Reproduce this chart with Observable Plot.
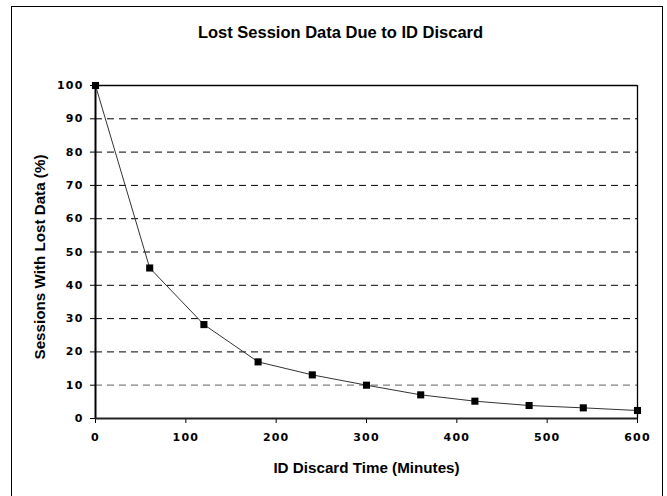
<!DOCTYPE html>
<html>
<head>
<meta charset="utf-8">
<script src="https://cdn.jsdelivr.net/npm/d3@7"></script>
<script src="https://cdn.jsdelivr.net/npm/@observablehq/plot@0.6"></script>
<style>
  html, body { margin: 0; padding: 0; background: #fff; overflow: hidden; }
  #wrap { position: relative; width: 667px; height: 496px; }
  #border { position: absolute; left: 11px; top: 6px; width: 650px; height: 500px;
            border: 1.5px solid #000; border-bottom: none; pointer-events: none; }
  #chart { position: absolute; left: 0; top: 0; }
  #chart g[aria-label="y-axis tick label"] text,
  #chart g[aria-label="x-axis tick label"] text { letter-spacing: 1.2px; }
</style>
</head>
<body>
<div id="wrap"><div id="chart"></div><div id="border"></div></div>
<script>
const minutes = [0, 60, 120, 180, 240, 300, 360, 420, 480, 540, 600];
const lostPct = [100, 45.2, 28.2, 17.0, 13.1, 10.0, 7.1, 5.2, 3.9, 3.2, 2.4];
const yTicks = [0, 10, 20, 30, 40, 50, 60, 70, 80, 90, 100];
const xTicks = [0, 100, 200, 300, 400, 500, 600];
const titleText = "Lost Session Data Due to ID Discard";
const xLabel = "ID Discard Time (Minutes)";
const yLabel = "Sessions With Lost Data (%)";

const data = minutes.map((m, i) => ({m, v: lostPct[i]}));
const blackGrid = yTicks.filter(t => t > 10 && t < 100);
const grayGrid = yTicks.filter(t => t === 10);

const tickFont = {fontFamily: "DejaVu Sans", fontSize: 11, fontWeight: "bold"};

const chart = Plot.plot({
  width: 667,
  height: 496,
  marginLeft: 95,
  marginRight: 30,
  marginTop: 85,
  marginBottom: 78,
  style: {fontFamily: "DejaVu Sans", background: "white", overflow: "visible"},
  x: {domain: [0, 600]},
  y: {domain: [0, 100]},
  marks: [
    Plot.ruleY(blackGrid, {y: d => d, stroke: "#000", strokeWidth: 1, strokeDasharray: "7,5"}),
    Plot.ruleY(grayGrid, {y: d => d, stroke: "#808080", strokeWidth: 1.2, strokeDasharray: "7,5"}),
    Plot.ruleY([100], {stroke: "#000", strokeWidth: 1.3}),
    Plot.ruleX([600], {stroke: "#000", strokeWidth: 1.3}),
    Plot.axisY({ticks: yTicks, tickSize: 5, tickPadding: 7, label: null, tickFormat: d => d,
                ...tickFont, fill: "#000"}),
    Plot.axisX({ticks: xTicks, tickSize: 5, tickPadding: 10, label: null, tickFormat: d => d,
                ...tickFont, fill: "#000"}),
    Plot.ruleX([0], {stroke: "#000", strokeWidth: 2}),
    Plot.ruleY([0], {stroke: "#222", strokeWidth: 2}),
    Plot.line(data, {x: "m", y: "v", stroke: "#333", strokeWidth: 1}),
    Plot.dot(data, {x: "m", y: "v", symbol: "square", r: 4, fill: "#000", stroke: "none"}),
    Plot.text([titleText], {frameAnchor: "top", text: d => d, dx: -26, dy: -53, lineAnchor: "middle",
                fontFamily: "Liberation Sans", fontWeight: "bold", fontSize: 16.5, fill: "#000"}),
    Plot.text([xLabel], {frameAnchor: "bottom", text: d => d, dy: 50, lineAnchor: "middle",
                fontFamily: "Liberation Sans", fontWeight: "bold", fontSize: 15.2, fill: "#000"}),
    Plot.text([yLabel], {frameAnchor: "left", text: d => d, rotate: -90, dx: -55, dy: 5,
                textAnchor: "middle", lineAnchor: "middle",
                fontFamily: "Liberation Sans", fontWeight: "bold", fontSize: 15.2, fill: "#000"})
  ]
});
document.getElementById("chart").appendChild(chart);
</script>
</body>
</html>
